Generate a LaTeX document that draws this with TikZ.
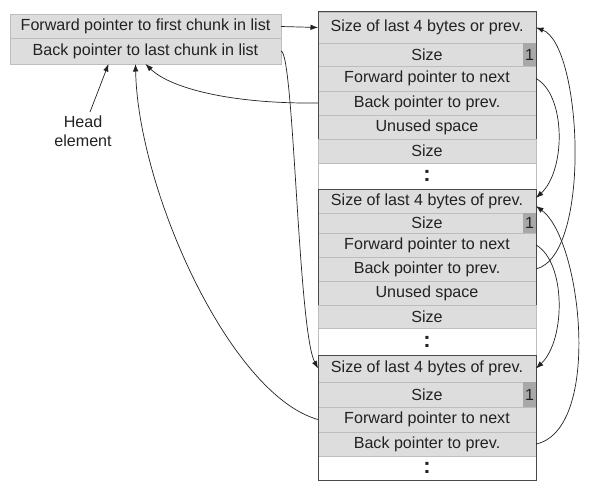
\documentclass[tikz,border=0pt]{standalone}
\usepackage{fontspec}
\setmainfont{Liberation Sans}
\usetikzlibrary{arrows.meta}
\definecolor{cellgray}{HTML}{DCDDDC}
\definecolor{sepgray}{HTML}{BDBDBD}
\definecolor{boxline}{HTML}{4A4A4A}
\definecolor{flaggray}{HTML}{A8A8A8}
\definecolor{inkcol}{HTML}{222222}
\newcommand\mydotmark{{\fontsize{22}{22}\selectfont\bfseries :}}
\begin{document}
\begin{tikzpicture}[x=1pt,y=-1pt,
  txt/.style={font=\fontsize{16.1}{19}\selectfont, text=inkcol},
  cell/.style={txt, draw=sepgray, fill=cellgray, anchor=north west, minimum width=218pt, inner sep=0pt, outer sep=0pt},
  blankcell/.style={cell, fill=white},
  headcell/.style={cell, minimum width=271pt, minimum height=25pt},
  flagcell/.style={txt, fill=flaggray, anchor=north east, minimum width=13pt, inner sep=0pt, outer sep=0pt},
  chunkbox/.style={draw=boxline, line width=1pt},
  arr/.style={draw=inkcol, line width=0.7pt, -{Latex[length=7.5pt,width=5.5pt]}}]
\useasboundingbox (0,0) rectangle (612,492);
\fill[white] (0,0) rectangle (612,492);
% head element
\node[headcell] (h1) at (10,14) {Forward pointer to first chunk in list};
\node[headcell, minimum height=26pt] (h2) at (10,38) {Back pointer to last chunk in list};
\node[txt, align=center] (hl) at (83,131) {Head\\element};
% chunk 1
\node[cell, minimum height=31pt] (c1r1) at (318,12) {Size of last 4 bytes or prev.};
\node[cell, minimum height=23pt] (c1r2) at (318,43) {Size};
\node[cell, minimum height=25pt] (c1r3) at (318,66) {Forward pointer to next};
\node[cell, minimum height=24pt] (c1r4) at (318,91) {Back pointer to prev.};
\node[cell, minimum height=24pt] (c1r5) at (318,115) {Unused space};
\node[flagcell, minimum height=23pt] (c1f) at (c1r2.north east) {1};
\draw[chunkbox] (c1r1.north west) rectangle (c1r5.south east);
\node[cell, minimum height=24pt] (c1s) at (318,139) {Size};
\node[blankcell, minimum height=26pt] (c1d) at (318,163) {\mydotmark};
% chunk 2
\node[cell, minimum height=24pt] (c2r1) at (318,189) {Size of last 4 bytes of prev.};
\node[cell, minimum height=20pt] (c2r2) at (318,213) {Size};
\node[cell, minimum height=24pt] (c2r3) at (318,233) {Forward pointer to next};
\node[cell, minimum height=24pt] (c2r4) at (318,257) {Back pointer to prev.};
\node[cell, minimum height=24pt] (c2r5) at (318,281) {Unused space};
\node[flagcell, minimum height=20pt] (c2f) at (c2r2.north east) {1};
\draw[chunkbox] (c2r1.north west) rectangle (c2r5.south east);
\node[cell, minimum height=23pt] (c2s) at (318,305) {Size};
\node[blankcell, minimum height=27pt] (c2d) at (318,328) {\mydotmark};
% chunk 3
\node[cell, minimum height=27pt] (c3r1) at (318,355) {Size of last 4 bytes of prev.};
\node[cell, minimum height=25pt] (c3r2) at (318,382) {Size};
\node[cell, minimum height=25pt] (c3r3) at (318,407) {Forward pointer to next};
\node[cell, minimum height=24pt] (c3r4) at (318,432) {Back pointer to prev.};
\node[blankcell, minimum height=24pt] (c3d) at (318,456) {\mydotmark};
\node[flagcell, minimum height=25pt] (c3f) at (c3r2.north east) {1};
\draw[chunkbox] (c3r1.north west) rectangle (c3d.south east);
% left connectors
\draw[arr] (h1.east) -- (c1r1.west);
\draw[arr] (h2.east) .. controls (294,52) and (298,330) .. (c3r1.west);
\draw[arr] (c1r4.west) .. controls (230,104) and (170,88) .. (h2.south);
\draw[arr] (c3r3.west) .. controls (230,395) and (138,190) .. ([xshift=-10pt]h2.south);
\draw[arr] ([xshift=7pt]hl.north) -- ([xshift=-37pt]h2.south);
% right connectors
\draw[arr] (c1r3.east) .. controls (566,95) and (566,170) .. ([yshift=3pt]c2r1.east);
\draw[arr] (c2r4.east) .. controls (592,255) and (582,45) .. (c1r1.east);
\draw[arr] (c2r3.east) .. controls (566,262) and (566,340) .. (c3r1.east);
\draw[arr] (c3r4.east) .. controls (602,430) and (582,240) .. ([yshift=-5pt]c2r1.east);
\end{tikzpicture}
\end{document}
